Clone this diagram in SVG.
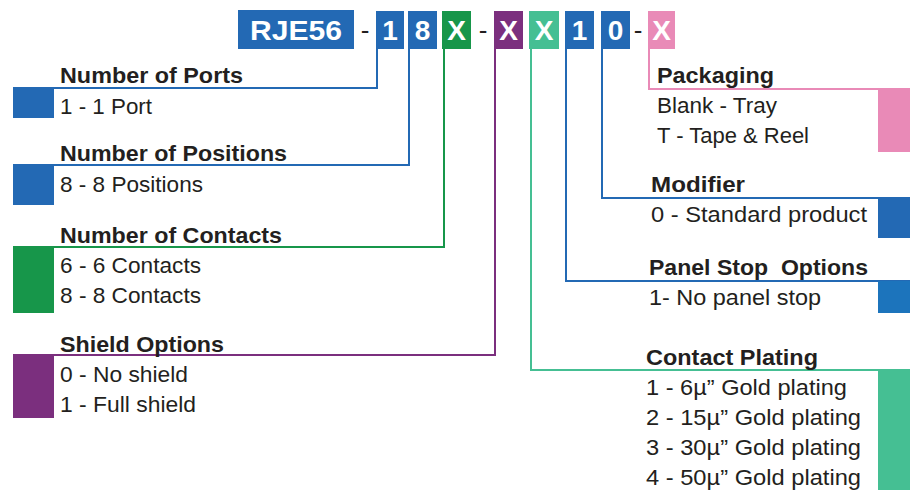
<svg xmlns="http://www.w3.org/2000/svg" width="910" height="491" viewBox="0 0 910 491">
<style>
.hd{font-family:"Liberation Sans",Arial,sans-serif;font-weight:bold;font-size:28px;fill:#fff;text-anchor:middle}
.dash{font-family:"Liberation Sans",Arial,sans-serif;font-size:26px;fill:#231f20;text-anchor:middle}
.t{font-family:"Liberation Sans",Arial,sans-serif;font-weight:bold;font-size:22.5px;fill:#231f20}
.v{font-family:"Liberation Sans",Arial,sans-serif;font-size:22px;fill:#231f20}
.c{fill:none;stroke-width:2}
</style>
<rect width="910" height="491" fill="#fff"/>
<g id="header">
  <g id="seg-rje56"><rect x="238" y="10" width="116" height="39" fill="#2369b4"/><text class="hd" x="296" y="40" textLength="92" lengthAdjust="spacingAndGlyphs">RJE56</text></g>
  <text class="dash" x="365" y="39">-</text>
  <g id="seg-ports"><rect x="376" y="11" width="28" height="38" fill="#2369b4"/><text class="hd" x="390" y="40">1</text></g>
  <g id="seg-positions"><rect x="408" y="11" width="29" height="38" fill="#2369b4"/><text class="hd" x="422.5" y="40">8</text></g>
  <g id="seg-contacts"><rect x="442" y="11" width="29" height="38" fill="#17964a"/><text class="hd" x="456.5" y="40">X</text></g>
  <text class="dash" x="483" y="39">-</text>
  <g id="seg-shield"><rect x="494" y="11" width="29" height="38" fill="#7b2f7e"/><text class="hd" x="508.5" y="40">X</text></g>
  <g id="seg-plating"><rect x="529" y="11" width="30" height="38" fill="#45bf93"/><text class="hd" x="544" y="40">X</text></g>
  <g id="seg-panel"><rect x="565" y="11" width="29" height="38" fill="#2369b4"/><text class="hd" x="579.5" y="40">1</text></g>
  <g id="seg-modifier"><rect x="601" y="11" width="29" height="38" fill="#2369b4"/><text class="hd" x="615.5" y="40">0</text></g>
  <text class="dash" x="638" y="39">-</text>
  <g id="seg-packaging"><rect x="648" y="11" width="27" height="38" fill="#e98ab7"/><text class="hd" x="661.5" y="40">X</text></g>
</g>
<g id="connectors">
  <polyline class="c" stroke="#2369b4" points="377,49 377,88 13,88"/>
  <polyline class="c" stroke="#2369b4" points="409,49 409,165 13,165"/>
  <polyline class="c" stroke="#17964a" points="444,49 444,247 13,247"/>
  <polyline class="c" stroke="#7b2f7e" points="495,49 495,355 13,355"/>
  <polyline class="c" stroke="#e98ab7" points="649,49 649,89 910,89"/>
  <polyline class="c" stroke="#2369b4" points="602,49 602,198 910,198"/>
  <polyline class="c" stroke="#2369b4" points="566,49 566,281 910,281"/>
  <polyline class="c" stroke="#45bf93" points="531,49 531,370 910,370"/>
</g>
<g id="ports">
  <rect x="13" y="88" width="41" height="30" fill="#2369b4"/>
  <text class="t" x="60" y="83" textLength="183" lengthAdjust="spacingAndGlyphs">Number of Ports</text>
  <text class="v" x="60" y="114" textLength="92" lengthAdjust="spacingAndGlyphs">1 - 1 Port</text>
</g>
<g id="positions">
  <rect x="13" y="165" width="41" height="40" fill="#2369b4"/>
  <text class="t" x="60" y="161" textLength="227" lengthAdjust="spacingAndGlyphs">Number of Positions</text>
  <text class="v" x="60" y="192" textLength="143" lengthAdjust="spacingAndGlyphs">8 - 8 Positions</text>
</g>
<g id="contacts">
  <rect x="13" y="247" width="41" height="66" fill="#17964a"/>
  <text class="t" x="60" y="243" textLength="222" lengthAdjust="spacingAndGlyphs">Number of Contacts</text>
  <text class="v" x="60" y="273" textLength="141" lengthAdjust="spacingAndGlyphs">6 - 6 Contacts</text>
  <text class="v" x="60" y="303" textLength="141" lengthAdjust="spacingAndGlyphs">8 - 8 Contacts</text>
</g>
<g id="shield">
  <rect x="13" y="355" width="41" height="63" fill="#7b2f7e"/>
  <text class="t" x="60" y="352" textLength="164" lengthAdjust="spacingAndGlyphs">Shield Options</text>
  <text class="v" x="60" y="382" textLength="128" lengthAdjust="spacingAndGlyphs">0 - No shield</text>
  <text class="v" x="60" y="412" textLength="136" lengthAdjust="spacingAndGlyphs">1 - Full shield</text>
</g>
<g id="packaging">
  <rect x="878" y="89" width="32" height="63" fill="#e98ab7"/>
  <text class="t" x="657" y="83" textLength="117" lengthAdjust="spacingAndGlyphs">Packaging</text>
  <text class="v" x="657" y="113" textLength="120" lengthAdjust="spacingAndGlyphs">Blank - Tray</text>
  <text class="v" x="657" y="143" textLength="152" lengthAdjust="spacingAndGlyphs">T - Tape &amp; Reel</text>
</g>
<g id="modifier">
  <rect x="878" y="198" width="32" height="40" fill="#2369b4"/>
  <text class="t" x="651" y="192" textLength="94" lengthAdjust="spacingAndGlyphs">Modifier</text>
  <text class="v" x="651" y="222" textLength="216" lengthAdjust="spacingAndGlyphs">0 - Standard product</text>
</g>
<g id="panel-stop">
  <rect x="878" y="281" width="32" height="32" fill="#1c74bc"/>
  <text class="t" x="649" y="275" textLength="219" lengthAdjust="spacingAndGlyphs" xml:space="preserve">Panel Stop  Options</text>
  <text class="v" x="649" y="305" textLength="172" lengthAdjust="spacingAndGlyphs">1- No panel stop</text>
</g>
<g id="plating">
  <rect x="878" y="370" width="32" height="120" fill="#45bf93"/>
  <text class="t" x="646" y="365" textLength="172" lengthAdjust="spacingAndGlyphs">Contact Plating</text>
  <text class="v" x="646" y="395" textLength="201" lengthAdjust="spacingAndGlyphs">1 - 6µ” Gold plating</text>
  <text class="v" x="646" y="425" textLength="215" lengthAdjust="spacingAndGlyphs">2 - 15µ” Gold plating</text>
  <text class="v" x="646" y="455" textLength="215" lengthAdjust="spacingAndGlyphs">3 - 30µ” Gold plating</text>
  <text class="v" x="646" y="485" textLength="215" lengthAdjust="spacingAndGlyphs">4 - 50µ” Gold plating</text>
</g>
</svg>
